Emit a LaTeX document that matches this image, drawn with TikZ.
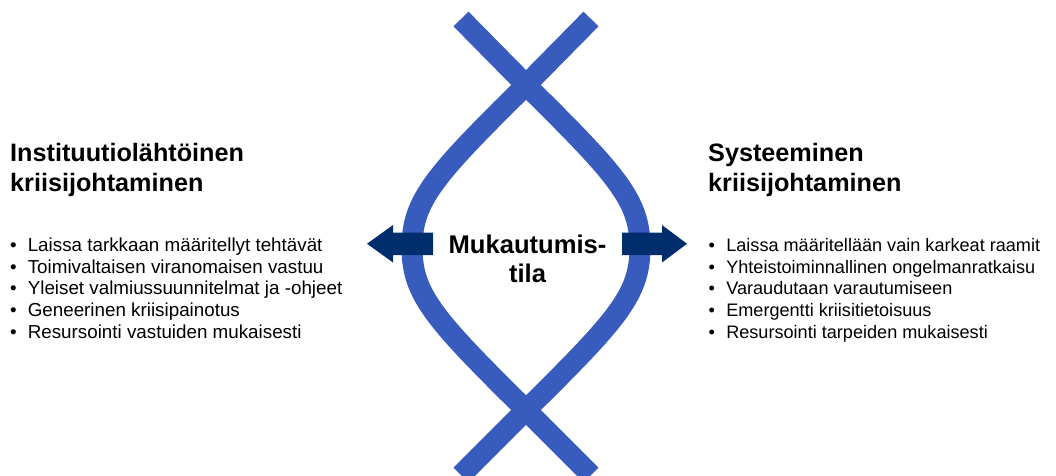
\documentclass[tikz,border=0pt]{standalone}
\usepackage{fontspec}
\setmainfont{Liberation Sans}
\usepackage{tikz}
\definecolor{strandblue}{RGB}{56,92,190}
\definecolor{arrownavy}{RGB}{0,46,108}
\tikzstyle{strand}=[draw=strandblue,line width=21pt,line cap=butt]
\tikzstyle{pointer}=[fill=arrownavy]
\tikzstyle{headline}=[inner sep=0pt,align=left,font=\fontsize{25.2}{30}\selectfont\bfseries]
\tikzstyle{midline}=[inner sep=0pt,align=center,font=\fontsize{25.6}{29.5}\selectfont\bfseries]
\tikzstyle{itemlist}=[inner sep=0pt,align=left,font=\fontsize{18.8}{21.7}\selectfont]
\newcommand{\bulitem}[1]{\makebox[17.6pt][l]{•}#1}

\begin{document}
\begin{tikzpicture}[x=1pt,y=-1pt]
    \useasboundingbox (0,0) rectangle (1056,475);
    % crossings of the two strands
    \coordinate (xtop) at (526,85);
    \coordinate (xbot) at (526,410);
    \coordinate (tl) at (461,19);
    \coordinate (tr) at (591,19);
    \coordinate (bl) at (461,475);
    \coordinate (br) at (591,475);
    \draw[strand] (tl) -- (xtop) .. controls (617,175) and (640,200) .. (640,247.5)
        .. controls (640,295) and (617,320) .. (xbot) -- (bl);
    \draw[strand] (tr) -- (xtop) .. controls (435,175) and (412,200) .. (412,247.5)
        .. controls (412,295) and (435,320) .. (xbot) -- (br);
    % arrows out of the middle
    \fill[pointer] (433,232.5) -- (393,232.5) -- (393,225) -- (367,243.75)
        -- (393,262.5) -- (393,255) -- (433,255) -- cycle;
    \fill[pointer] (622,232.5) -- (662,232.5) -- (662,225) -- (687,243.75)
        -- (662,262.5) -- (662,255) -- (622,255) -- cycle;
    % base anchor sits on the last line
    \node[midline,anchor=base] (mid) at (527.5,282.7) {Mukautumis-\\tila};
    % left side
    \node[headline,anchor=base west] (ltitle) at (10,191.7) {Instituutiol\"aht\"oinen\\kriisijohtaminen};
    \node[itemlist,anchor=base west] (llist) at (10,338.3) {%
        \bulitem{Laissa tarkkaan m\"a\"aritellyt teht\"av\"at}\\
        \bulitem{Toimivaltaisen viranomaisen vastuu}\\
        \bulitem{Yleiset valmiussuunnitelmat ja -ohjeet}\\
        \bulitem{Geneerinen kriisipainotus}\\
        \bulitem{Resursointi vastuiden mukaisesti}};
    % right side
    \node[headline,anchor=base west] (rtitle) at (708,191.7) {Systeeminen\\kriisijohtaminen};
    \node[itemlist,anchor=base west,font=\fontsize{18.1}{21.7}\selectfont] (rlist) at (708.5,338.3) {%
        \bulitem{Laissa m\"a\"aritell\"a\"an vain karkeat raamit}\\
        \bulitem{Yhteistoiminnallinen ongelmanratkaisu}\\
        \bulitem{Varaudutaan varautumiseen}\\
        \bulitem{Emergentti kriisitietoisuus}\\
        \bulitem{Resursointi tarpeiden mukaisesti}};
\end{tikzpicture}
\end{document}
